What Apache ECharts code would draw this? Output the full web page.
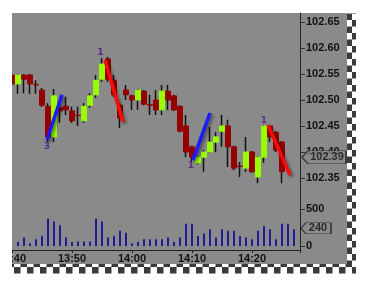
<!DOCTYPE html>
<html><head><meta charset="utf-8">
<script src="https://cdn.jsdelivr.net/npm/echarts@6/dist/echarts.min.js"></script>
<style>html,body{margin:0;padding:0;background:#fff}#c{width:379px;height:296px}</style>
</head><body><div id="c"></div>
<script>
// minute index from 13:40
const candleMinute = [0,1,2,3,4,5,6,7,8,9,10,11,12,13,14,15,16,17,18,19,20,21,22,23,24,25,26,27,28,29,30,31,32,33,34,35,36,37,38,39,40,41,42,43,44,45];
const opens  = [102.548,102.531,102.548,102.548,102.530,102.519,102.488,102.429,102.485,102.488,102.479,102.471,102.460,102.490,102.510,102.540,102.579,102.538,102.490,102.519,102.508,102.500,102.517,102.491,102.500,102.481,102.517,102.508,102.488,102.450,102.410,102.379,102.390,102.400,102.419,102.440,102.450,102.410,102.373,102.369,102.400,102.352,102.390,102.450,102.438,102.419];
const closes = [102.531,102.548,102.540,102.531,102.529,102.490,102.429,102.508,102.479,102.481,102.460,102.470,102.488,102.508,102.538,102.569,102.540,102.510,102.465,102.510,102.500,102.519,102.492,102.490,102.481,102.517,102.500,102.481,102.440,102.400,102.390,102.390,102.400,102.419,102.429,102.450,102.410,102.369,102.372,102.400,102.362,102.390,102.450,102.429,102.404,102.362];
const lows   = [102.527,102.512,102.513,102.512,102.512,102.487,102.419,102.419,102.456,102.471,102.456,102.450,102.456,102.485,102.504,102.535,102.535,102.506,102.446,102.500,102.481,102.481,102.490,102.471,102.471,102.471,102.481,102.479,102.438,102.390,102.381,102.376,102.362,102.398,102.400,102.410,102.371,102.365,102.352,102.362,102.360,102.340,102.379,102.419,102.400,102.340];
const highs  = [102.552,102.550,102.550,102.550,102.538,102.523,102.494,102.521,102.500,102.506,102.487,102.487,102.494,102.513,102.548,102.581,102.583,102.548,102.494,102.529,102.510,102.521,102.519,102.510,102.519,102.529,102.529,102.510,102.490,102.471,102.412,102.392,102.404,102.448,102.438,102.471,102.462,102.412,102.381,102.429,102.402,102.392,102.452,102.452,102.440,102.421];

const volumeMinute = [1,2,3,4,5,6,7,8,9,10,11,12,13,14,15,16,17,18,19,20,21,22,23,24,25,26,27,28,29,30,31,32,33,34,35,36,37,38,39,40,41,42,43,44,45,46,47];
const volumes = [55,115,35,90,140,370,330,280,115,55,60,60,60,370,330,115,140,205,180,35,55,90,90,90,90,115,55,115,300,300,135,170,225,115,225,205,205,135,115,90,205,270,225,90,300,300,225];

const timeLabels = ['13:40','13:50','14:00','14:10','14:20'];
const priceTicks = [102.35,102.40,102.45,102.50,102.55,102.60,102.65];
const volumeTicks = [0,500];

const arrowStartMinute = [5.83,15.5,30.17,42.67];
const arrowStartPrice  = [102.423,102.577,102.385,102.452];
const arrowEndMinute   = [8.33,18.5,33.0,46.33];
const arrowEndPrice    = [102.510,102.458,102.475,102.356];
const arrowDirection   = ['up','down','up','down'];

const markerText   = ['3','1','1','1'];
const markerMinute = [5.83,14.75,29.83,42.0];
const markerPrice  = [102.410,102.592,102.373,102.461];

const lastPrice = 102.39;
const lastVolume = 240;

// ---------- build ----------
const PANEL = '#8a8a8a';
const wickData = candleMinute.map((m,i)=>[m, opens[i], closes[i], lows[i], highs[i]]);
const bodyData = candleMinute.map((m,i)=>[m, opens[i], closes[i], Math.min(opens[i],closes[i]), Math.max(opens[i],closes[i])]);
const volData = volumeMinute.map((m,i)=>[m, volumes[i]]);
const arrowColor = d => d==='up' ? '#1a1aff' : '#ff0a0a';
const arrowLines = arrowDirection.map((d,i)=>[
  {coord:[arrowStartMinute[i], arrowStartPrice[i]], lineStyle:{color:arrowColor(d)}},
  {coord:[arrowEndMinute[i], arrowEndPrice[i]]}
]);
const markerData = markerText.map((t,i)=>[markerMinute[i], markerPrice[i], t]);

// decorative panel + checker border
const gfx = [{type:'rect', z:-100, shape:{x:11,y:13,width:336,height:251}, style:{fill:PANEL, stroke:null, lineWidth:0}}];
const cell = 6.5;
function bandPieces(x,y,w,h){
  const rects=[];
  const clipRect=(bx,by,bw,bh)=>{
    const x1=Math.max(x,bx), y1=Math.max(y,by), x2=Math.min(x+w,bx+bw), y2=Math.min(y+h,by+bh);
    if(x2>x1&&y2>y1) rects.push([x1,y1,x2-x1,y2-y1]);
  };
  clipRect(12,264,344,9.5);
  clipRect(347,13,9,251);
  return rects;
}
for(let c=0;c<56;c++){
  for(let r=-39;r<=1;r++){
    if(((c+r)%2+2)%2!==1) continue;
    const x=1+cell*c, y=260.5+cell*r;
    bandPieces(x,y,cell,cell).forEach(q=>gfx.push({type:'rect',z:-50,shape:{x:q[0],y:q[1],width:q[2],height:q[3]},style:{fill:'#3a3a3a', stroke:null, lineWidth:0}}));
  }
}
gfx.push({type:'rect', zlevel:1, z:100, shape:{x:0,y:0,width:12,height:296}, style:{fill:'#fff', stroke:null, lineWidth:0}});

const labelFont = {fontFamily:'Liberation Sans, Arial, sans-serif', fontWeight:'bold', fontSize:11, color:'#111'};

const chart = echarts.init(document.getElementById('c'), null, {renderer:'canvas'});
chart.setOption({
  animation:false,
  backgroundColor:'#fff',
  graphic: gfx,
  grid:[
    {left:12, right:79, top:13, bottom:46, outerBoundsMode:'none', containLabel:false, show:false},
    {left:12, right:79, top:13, bottom:50, outerBoundsMode:'none', containLabel:false, show:false}
  ],
  xAxis:[
    {type:'value', gridIndex:0, min:0, max:48, interval:10,
      axisLine:{show:true, onZero:false, lineStyle:{color:'#222', width:1}},
      axisTick:{show:true, length:3, lineStyle:{color:'#222'}},
      splitLine:{show:false},
      axisLabel:Object.assign({margin:3, hideOverlap:false, formatter:v=>timeLabels[Math.round(v/10)]||''}, labelFont)},
    {type:'value', gridIndex:1, min:0, max:48, show:false, axisLine:{show:false, onZero:false}, splitLine:{show:false}}
  ],
  yAxis:[
    {type:'value', gridIndex:0, position:'right', min:102.21154, max:102.66731, scale:true,
      axisLine:{show:true, onZero:false, lineStyle:{color:'#222', width:1}},
      axisTick:{show:true, length:5, customValues:priceTicks, lineStyle:{color:'#333'}},
      splitLine:{show:false},
      axisLabel:Object.assign({margin:6, customValues:priceTicks, formatter:v=>v.toFixed(2)}, labelFont)},
    {type:'value', gridIndex:1, position:'right', min:0, max:3149,
      axisLine:{show:false, onZero:false},
      axisTick:{show:true, length:5, customValues:volumeTicks, lineStyle:{color:'#333'}},
      splitLine:{show:false},
      axisLabel:Object.assign({margin:6, customValues:volumeTicks}, labelFont)}
  ],
  series:[
    {type:'bar', xAxisIndex:1, yAxisIndex:1, data:volData, barWidth:2,
      itemStyle:{color:'#1c1c94'}, silent:true},
    {type:'candlestick', xAxisIndex:0, yAxisIndex:0, data:wickData, barWidth:1, z:3,
      encode:{x:0, y:[1,2,3,4]},
      itemStyle:{color:'#111', color0:'#111', borderColor:'#111', borderColor0:'#111', borderColorDoji:'#111', borderWidth:1.5},
      silent:true},
    {type:'candlestick', xAxisIndex:0, yAxisIndex:0, data:bodyData, barWidth:5, z:4,
      encode:{x:0, y:[1,2,3,4]},
      itemStyle:{color:'#99ff00', color0:'#950000', borderColor:'#99ff00', borderColor0:'#950000', borderColorDoji:'#111', borderWidth:1},
      silent:true,
      markLine:{silent:true, symbol:['none','arrow'], symbolSize:[0,11], label:{show:false},
        lineStyle:{width:3.5, type:'solid', shadowBlur:3, shadowColor:'rgba(0,0,0,0.45)', shadowOffsetX:2, shadowOffsetY:2},
        emphasis:{disabled:true}, data:arrowLines}},
    {type:'scatter', xAxisIndex:0, yAxisIndex:0, data:markerData, symbolSize:0, z:6, silent:true,
      label:{show:true, position:'inside', formatter:p=>p.value[2], color:'#4b1490', fontWeight:'bold', fontSize:9, fontFamily:'DejaVu Sans'}},
    {type:'scatter', xAxisIndex:0, yAxisIndex:0, data:[[48, lastPrice]], clip:false, z:6, silent:true,
      symbol:'path://M0,6 L6,0 L44,0 L44,12 L6,12 Z', symbolSize:[44,13], symbolKeepAspect:false, symbolOffset:[24,0],
      itemStyle:{color:PANEL, borderColor:'#222', borderWidth:1},
      label:Object.assign({show:true, position:'inside', offset:[3,0], formatter:p=>p.value[1].toFixed(2)}, labelFont)},
    {type:'scatter', xAxisIndex:1, yAxisIndex:1, data:[[48, lastVolume]], clip:false, z:6, silent:true,
      symbol:'path://M0,5 L5,0 L30,0 L30,10 L5,10 Z', symbolSize:[30,11], symbolKeepAspect:false, symbolOffset:[16,0],
      itemStyle:{color:PANEL, borderColor:'#222', borderWidth:1},
      label:Object.assign({show:true, position:'inside', offset:[2,0], formatter:p=>String(p.value[1])}, labelFont)}
  ]
});
</script></body></html>
